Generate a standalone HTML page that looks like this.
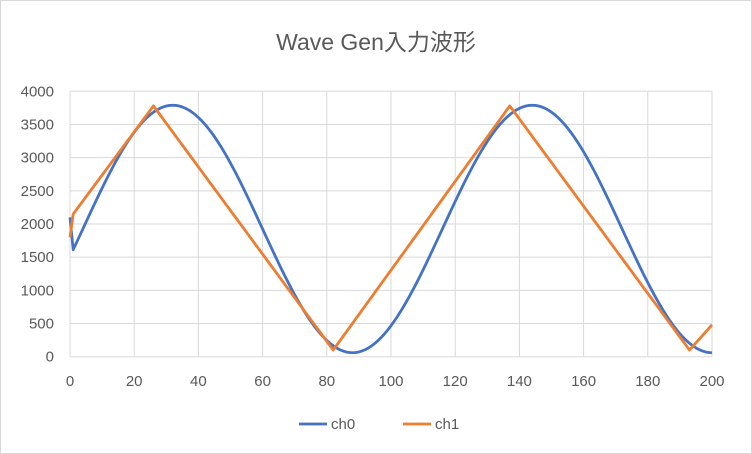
<!DOCTYPE html>
<html><head><meta charset="utf-8"><style>
body{margin:0;background:#fff;}
svg{display:block;font-family:"Liberation Sans","Noto Sans CJK JP",sans-serif;}
</style></head><body>
<svg id="s" width="752" height="454" xmlns="http://www.w3.org/2000/svg">
<rect x="0.5" y="0.5" width="751" height="453" fill="#fff" stroke="#d9d9d9"/>
<text x="376" y="50" text-anchor="middle" font-size="23" fill="#595959">Wave Gen入力波形</text>
<g id="grid" stroke="#d9d9d9" stroke-width="1"></g>
<g id="lbl" font-size="15" fill="#595959"></g>
<polyline id="b" fill="none" stroke="#4472c4" stroke-width="2.8" stroke-linejoin="round"/>
<polyline id="o" fill="none" stroke="#ed7d31" stroke-width="2.8" stroke-linejoin="round"/>
<line x1="299" y1="424" x2="327" y2="424" stroke="#4472c4" stroke-width="2.8"/>
<text x="331" y="429" font-size="15" fill="#595959">ch0</text>
<line x1="403" y1="424" x2="431" y2="424" stroke="#ed7d31" stroke-width="2.8"/>
<text x="435" y="429" font-size="15" fill="#595959">ch1</text>
</svg>
<script>
var X0=70,X1=712,Y0=356.7,Y1=91.3;
function px(x){return X0+(X1-X0)*x/200;}
function py(v){return Y0-(Y0-Y1)*v/4000;}
var g=document.getElementById('grid'),l=document.getElementById('lbl'),h='',t='';
for(var i=0;i<=8;i++){var y=py(i*500);h+='<line x1="'+X0+'" x2="'+X1+'" y1="'+y+'" y2="'+y+'"/>';t+='<text x="54" y="'+(y+5)+'" text-anchor="end">'+(i*500)+'</text>';}
for(var i=0;i<=10;i++){var x=px(i*20);h+='<line x1="'+x+'" x2="'+x+'" y1="'+Y1+'" y2="'+Y0+'"/>';t+='<text x="'+x+'" y="386" text-anchor="middle">'+(i*20)+'</text>';}
g.innerHTML=h;l.innerHTML=t;
var b=[],o=[];
for(var x=0;x<=200;x+=1){
 var v=x==0?2100:1925+1865*Math.cos(2*Math.PI*(x-32)/112);
 b.push(px(x)+','+py(v));
 var w;
 if(x==0)w=1800;
 else if(x<=26)w=2150+(3780-2150)*(x-1)/25;
 else if(x<=82)w=3780-(3780-100)*(x-26)/56;
 else if(x<=137)w=100+(3780-100)*(x-82)/55;
 else if(x<=193)w=3780-(3780-100)*(x-137)/56;
 else w=100+(480-100)*(x-193)/7;
 o.push(px(x)+','+py(w));
}
document.getElementById('b').setAttribute('points',b.join(' '));
document.getElementById('o').setAttribute('points',o.join(' '));
</script>
</body></html>
